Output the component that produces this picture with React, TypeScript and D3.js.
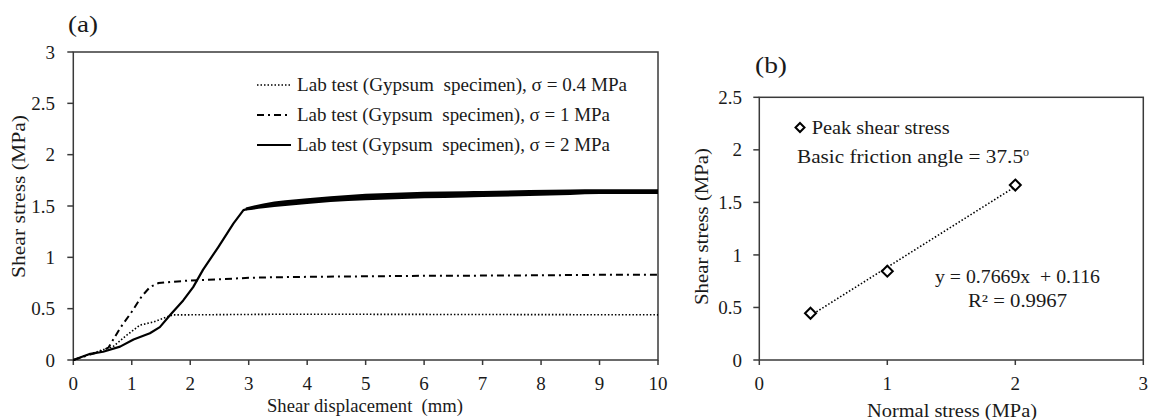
import React from "react";
import * as d3 from "d3";

// ---------- Data: panel (a) ----------
const xTicksA = [0, 1, 2, 3, 4, 5, 6, 7, 8, 9, 10];
const yTicksA = [0, 0.5, 1, 1.5, 2, 2.5, 3];

// σ = 0.4 MPa (dotted)
const dispDotted = [0, 0.3, 0.51, 0.68, 0.91, 1.14, 1.37, 1.6, 1.71, 2.0, 3.37, 5, 7, 10];
const stressDotted = [0, 0.06, 0.1, 0.13, 0.24, 0.34, 0.37, 0.42, 0.44, 0.44, 0.445, 0.445, 0.443, 0.44];

// σ = 1 MPa (dash-dot)
const dispDashDot = [0, 0.3, 0.5, 0.6, 0.8, 1.0, 1.17, 1.31, 1.46, 1.66, 2.0, 2.23, 3.0, 3.31, 4, 5, 6, 7, 8, 9, 10];
const stressDashDot = [0, 0.055, 0.09, 0.12, 0.31, 0.47, 0.62, 0.71, 0.75, 0.76, 0.775, 0.78, 0.8, 0.805, 0.81, 0.815, 0.82, 0.822, 0.825, 0.83, 0.83];

// σ = 2 MPa (solid)
const dispSolid = [0, 0.29, 0.51, 0.8, 1.03, 1.31, 1.48, 1.66, 1.88, 2.05, 2.22, 2.48, 2.74, 2.91, 3.0, 3.25, 3.6, 4.0, 4.4, 5.0, 5.5, 6.0, 6.7, 7.0, 7.8, 8.5, 9.0, 10];
const stressSolid = [0, 0.06, 0.08, 0.13, 0.2, 0.26, 0.32, 0.44, 0.58, 0.71, 0.88, 1.1, 1.33, 1.46, 1.475, 1.5, 1.52, 1.545, 1.565, 1.585, 1.595, 1.605, 1.612, 1.615, 1.625, 1.632, 1.64, 1.64];

// noisy envelope of the σ = 2 MPa plateau
const bandDisp = [2.95, 3.25, 4.0, 4.4, 5.0, 5.5, 6.0, 6.7, 7.0, 7.8, 8.5, 9.0, 10];
const bandLow = [1.455, 1.478, 1.52, 1.54, 1.555, 1.565, 1.575, 1.583, 1.587, 1.598, 1.608, 1.617, 1.618];
const bandHigh = [1.485, 1.525, 1.575, 1.595, 1.62, 1.63, 1.638, 1.643, 1.645, 1.655, 1.66, 1.663, 1.662];

const legendLabels = [
  "Lab test (Gypsum  specimen), σ = 0.4 MPa",
  "Lab test (Gypsum  specimen), σ = 1 MPa",
  "Lab test (Gypsum  specimen), σ = 2 MPa",
];

// ---------- Data: panel (b) ----------
const xTicksB = [0, 1, 2, 3];
const yTicksB = [0, 0.5, 1, 1.5, 2, 2.5];
const normalStress = [0.4, 1, 2];
const peakShear = [0.445, 0.845, 1.665];
const trendSlope = 0.7669;
const trendIntercept = 0.116;

const FONT = "'Liberation Serif', 'Times New Roman', serif";
const TXT = "#1a1a1a";
const AX = "#3a3a3a";
const TICK_FS = 19;
const TEXT_FS = 18;

const zip = (xs: number[], ys: number[]) => xs.map((x, i) => [x, ys[i]] as [number, number]);

export default function App() {
  // panel (a) scales
  const xA = d3.scaleLinear().domain([0, 10]).range([73.3, 658]);
  const yA = d3.scaleLinear().domain([0, 3]).range([360, 52]);
  const lineA = d3.line<[number, number]>().x((d) => xA(d[0])).y((d) => yA(d[1]));
  const bandArea = d3
    .area<number>()
    .x((_, i) => xA(bandDisp[i]))
    .y0((_, i) => yA(bandLow[i]))
    .y1((_, i) => yA(bandHigh[i]))
    .curve(d3.curveMonotoneX);

  // panel (b) scales
  const xB = d3.scaleLinear().domain([0, 3]).range([759.3, 1143.3]);
  const yB = d3.scaleLinear().domain([0, 2.5]).range([360, 97.3]);

  const styles = [
    { dash: "1.5,2", w: 1.6 },
    { dash: "7,4,2,4", w: 2 },
    { dash: "", w: 2.2 },
  ];
  const series = [
    zip(dispDotted, stressDotted),
    zip(dispDashDot, stressDashDot),
    zip(dispSolid, stressSolid),
  ];

  const diamond = (cx: number, cy: number, r: number) =>
    `M${cx},${cy - r}L${cx + r},${cy}L${cx},${cy + r}L${cx - r},${cy}Z`;

  const [tx0, tx1] = [normalStress[0], normalStress[normalStress.length - 1]];

  return (
    <svg
      width={1149}
      height={420}
      style={{ position: "absolute", left: 0, top: 0, background: "#fff" }}
      fontFamily={FONT}
      fill={TXT}
    >
      <rect x={0} y={0} width={1149} height={420} fill="#fff" />

      {/* ================= Panel (a) ================= */}
      <text x={68} y={32} fontSize={24} textLength={30} lengthAdjust="spacingAndGlyphs">(a)</text>

      {/* plot frame */}
      <rect x={xA(0)} y={yA(3)} width={xA(10) - xA(0)} height={yA(0) - yA(3)} fill="none" stroke={AX} strokeWidth={1.5} />

      {/* y ticks */}
      {yTicksA.map((t) => (
        <g key={"ya" + t}>
          <line x1={xA(0) - 6} x2={xA(0)} y1={yA(t)} y2={yA(t)} stroke={AX} strokeWidth={1.5} />
          <text x={55} y={yA(t)} dy="0.35em" fontSize={TICK_FS} textAnchor="end">{t}</text>
        </g>
      ))}
      {/* x ticks */}
      {xTicksA.map((t) => (
        <g key={"xa" + t}>
          <line x1={xA(t)} x2={xA(t)} y1={yA(0)} y2={yA(0) + 5} stroke={AX} strokeWidth={1.5} />
          <text x={xA(t)} y={390} fontSize={TICK_FS} textAnchor="middle">{t}</text>
        </g>
      ))}

      <text
        transform={`translate(25,196.5) rotate(-90)`}
        fontSize={TEXT_FS}
        textAnchor="middle"
        textLength={163}
        lengthAdjust="spacingAndGlyphs"
      >
        Shear stress (MPa)
      </text>
      <text x={365} y={412} fontSize={TEXT_FS} textAnchor="middle" textLength={196} lengthAdjust="spacingAndGlyphs" xmlSpace="preserve">
        {"Shear displacement  (mm)"}
      </text>

      {/* curves */}
      <path d={bandArea(bandDisp) || ""} fill="#000" />
      {series.map((s, i) => (
        <path
          key={"s" + i}
          d={lineA(s) || ""}
          fill="none"
          stroke="#000"
          strokeWidth={styles[i].w}
          strokeDasharray={styles[i].dash}
          strokeLinejoin="round"
        />
      ))}

      {/* legend */}
      {legendLabels.map((lab, i) => {
        const cy = 85 + i * 30;
        return (
          <g key={"lg" + i}>
            <line x1={257} x2={291} y1={cy} y2={cy} stroke="#000" strokeWidth={styles[i].w} strokeDasharray={styles[i].dash} />
            <text
              x={297}
              y={cy + 6}
              fontSize={TEXT_FS}
              xmlSpace="preserve"
              textLength={i === 0 ? 330 : 313}
              lengthAdjust="spacingAndGlyphs"
            >
              {lab}
            </text>
          </g>
        );
      })}

      {/* ================= Panel (b) ================= */}
      <text x={755} y={73} fontSize={24} textLength={32} lengthAdjust="spacingAndGlyphs">(b)</text>

      <rect x={xB(0)} y={yB(2.5)} width={xB(3) - xB(0)} height={yB(0) - yB(2.5)} fill="none" stroke={AX} strokeWidth={1.5} />

      {yTicksB.map((t) => (
        <g key={"yb" + t}>
          <line x1={xB(0) - 6} x2={xB(0)} y1={yB(t)} y2={yB(t)} stroke={AX} strokeWidth={1.5} />
          <text x={742} y={yB(t)} dy="0.35em" fontSize={TICK_FS} textAnchor="end">{t}</text>
        </g>
      ))}
      {xTicksB.map((t) => (
        <g key={"xb" + t}>
          <line x1={xB(t)} x2={xB(t)} y1={yB(0)} y2={yB(0) + 5} stroke={AX} strokeWidth={1.5} />
          <text x={xB(t)} y={390} fontSize={TICK_FS} textAnchor="middle">{t}</text>
        </g>
      ))}

      <text
        transform={`translate(708,226.5) rotate(-90)`}
        fontSize={TEXT_FS}
        textAnchor="middle"
        textLength={157}
        lengthAdjust="spacingAndGlyphs"
      >
        Shear stress (MPa)
      </text>
      <text x={952} y={417} fontSize={TEXT_FS} textAnchor="middle" textLength={170} lengthAdjust="spacingAndGlyphs">
        Normal stress (MPa)
      </text>

      {/* trendline */}
      <line
        x1={xB(tx0)}
        y1={yB(trendSlope * tx0 + trendIntercept)}
        x2={xB(tx1)}
        y2={yB(trendSlope * tx1 + trendIntercept)}
        stroke="#000"
        strokeWidth={1.6}
        strokeDasharray="1.5,2"
      />
      {normalStress.map((x, i) => (
        <path key={"pt" + i} d={diamond(xB(x), yB(peakShear[i]), 5.5)} fill="#fff" stroke="#000" strokeWidth={2} />
      ))}

      {/* legend / annotations */}
      <path d={diamond(800, 127.5, 4.5)} fill="#fff" stroke="#000" strokeWidth={2} />
      <text x={811.7} y={134} fontSize={TEXT_FS} textLength={138} lengthAdjust="spacingAndGlyphs">Peak shear stress</text>
      <text x={797} y={163} fontSize={TEXT_FS}>
        <tspan textLength={226} lengthAdjust="spacingAndGlyphs">Basic friction angle = 37.5</tspan>
        <tspan fontSize={12} dy={-7}>o</tspan>
      </text>
      <text x={935} y={283} fontSize={TEXT_FS} xmlSpace="preserve" textLength={165} lengthAdjust="spacingAndGlyphs">
        {"y = 0.7669x  + 0.116"}
      </text>
      <text x={968} y={307} fontSize={TEXT_FS} textLength={99} lengthAdjust="spacingAndGlyphs">
        R² = 0.9967
      </text>
    </svg>
  );
}
